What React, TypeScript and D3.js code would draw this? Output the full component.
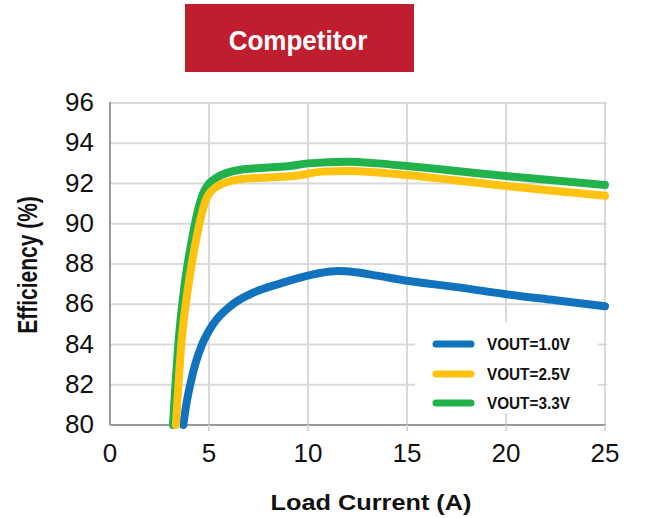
import { useEffect, useRef } from 'react';
import * as d3 from 'd3';

const WIDTH = 646;
const HEIGHT = 518;
const MARGIN = { top: 103, right: 41, bottom: 93, left: 110 };

const xTicks = [0, 5, 10, 15, 20, 25];
const yTicks = [80, 82, 84, 86, 88, 90, 92, 94, 96];

const seriesNames = ['VOUT=1.0V', 'VOUT=2.5V', 'VOUT=3.3V'];
const seriesColors = ['#1172bd', '#fec20f', '#22b24c'];

const current10 = [3.7, 3.85, 4.05, 4.3, 4.65, 5.2, 6.2, 7.3, 8.5, 9.6, 10.6, 11.5, 12.5, 13.5, 15, 17.5, 20, 22.5, 25];
const eff10 = [80, 81, 82, 83, 84, 85, 86, 86.6, 87.0, 87.32, 87.55, 87.65, 87.58, 87.42, 87.17, 86.85, 86.5, 86.2, 85.9];

const current25 = [3.33, 3.6, 4.0, 4.35, 4.6, 4.85, 5.4, 6.5, 8, 9.5, 10.7, 12, 13.5, 15, 17.5, 20, 22.5, 25];
const eff25 = [80, 84, 87.2, 89.2, 90.35, 91.2, 91.85, 92.2, 92.3, 92.4, 92.59, 92.62, 92.55, 92.42, 92.15, 91.88, 91.63, 91.39];

const current33 = [3.18, 3.45, 3.8, 4.1, 4.4, 4.7, 5.0, 5.4, 6.5, 8, 9.1, 10, 12, 13.5, 15, 17.5, 20, 22.5, 25];
const eff33 = [80, 84, 87.2, 89, 90.5, 91.5, 92.0, 92.3, 92.67, 92.8, 92.87, 93.0, 93.08, 93.0, 92.87, 92.62, 92.37, 92.15, 91.93];

const seriesX = [current10, current25, current33];
const seriesY = [eff10, eff25, eff33];
const drawOrder = [0, 2, 1];

function App() {
  const svgRef = useRef(null);

  useEffect(() => {
    const svg = d3.select(svgRef.current);
    svg.selectAll('*').remove();

    const x = d3.scaleLinear()
      .domain([0, 25])
      .range([MARGIN.left, WIDTH - MARGIN.right]);

    const y = d3.scaleLinear()
      .domain([80, 96])
      .range([HEIGHT - MARGIN.bottom, MARGIN.top]);

    const font = 'Liberation Sans, Arial, sans-serif';

    // title box
    svg.append('rect')
      .attr('x', 185).attr('y', 4)
      .attr('width', 229).attr('height', 68)
      .attr('fill', '#be1e2d');
    svg.append('text')
      .attr('transform', 'translate(298,50) scale(0.93,1)')
      .attr('text-anchor', 'middle')
      .attr('font-family', font)
      .attr('font-weight', 'bold')
      .attr('font-size', 28)
      .attr('fill', '#fff')
      .text('Competitor');

    // grid
    const grid = svg.append('g').attr('stroke', '#d9d9d9').attr('stroke-width', 2);
    grid.selectAll('line.v')
      .data(xTicks.slice(1))
      .join('line')
      .attr('x1', (d) => x(d)).attr('x2', (d) => x(d))
      .attr('y1', y(96)).attr('y2', y(80));
    grid.selectAll('line.h')
      .data(yTicks.slice(1))
      .join('line')
      .attr('class', 'h')
      .attr('x1', x(0)).attr('x2', x(25) + 2)
      .attr('y1', (d) => y(d)).attr('y2', (d) => y(d));

    // axes
    svg.append('line')
      .attr('x1', x(0)).attr('x2', x(0))
      .attr('y1', y(96) - 1).attr('y2', y(80))
      .attr('stroke', '#999').attr('stroke-width', 2);
    svg.append('line')
      .attr('x1', x(0)).attr('x2', x(25) + 1)
      .attr('y1', y(80)).attr('y2', y(80))
      .attr('stroke', '#999').attr('stroke-width', 2);
    svg.append('g')
      .selectAll('line')
      .data(xTicks.slice(1))
      .join('line')
      .attr('x1', (d) => x(d)).attr('x2', (d) => x(d))
      .attr('y1', y(80)).attr('y2', y(80) + 6)
      .attr('stroke', '#d9d9d9').attr('stroke-width', 2);

    svg.append('g')
      .selectAll('text')
      .data(yTicks)
      .join('text')
      .attr('x', 94)
      .attr('y', (d) => y(d) + 8)
      .attr('text-anchor', 'end')
      .attr('font-family', font)
      .attr('font-size', 26)
      .attr('fill', '#111')
      .text((d) => d);

    svg.append('g')
      .selectAll('text')
      .data(xTicks)
      .join('text')
      .attr('x', (d) => x(d))
      .attr('y', 462)
      .attr('text-anchor', 'middle')
      .attr('font-family', font)
      .attr('font-size', 26)
      .attr('fill', '#111')
      .text((d) => d);

    svg.append('text')
      .attr('transform', 'translate(371,510) scale(1.15,1)')
      .attr('text-anchor', 'middle')
      .attr('font-family', font)
      .attr('font-weight', 'bold')
      .attr('font-size', 22)
      .attr('fill', '#111')
      .text('Load Current (A)');

    svg.append('text')
      .attr('transform', 'translate(37,265) rotate(-90) scale(1,1.3)')
      .attr('text-anchor', 'middle')
      .attr('font-family', font)
      .attr('font-weight', 'bold')
      .attr('font-size', 21)
      .attr('fill', '#111')
      .text('Efficiency (%)');

    // curves
    const line = d3.line<[number, number]>()
      .x((d) => x(d[0]))
      .y((d) => y(d[1]))
      .curve(d3.curveMonotoneX);

    drawOrder.forEach((i) => {
      const pts = seriesX[i].map((v, k) => [v, seriesY[i][k]] as [number, number]);
      svg.append('path')
        .attr('d', line(pts))
        .attr('fill', 'none')
        .attr('stroke', seriesColors[i])
        .attr('stroke-width', 8)
        .attr('stroke-linecap', 'round')
        .attr('stroke-linejoin', 'round');
    });

    // legend
    const legend = svg.append('g');
    legend.append('rect')
      .attr('x', 415).attr('y', 322)
      .attr('width', 183).attr('height', 91)
      .attr('fill', '#fff');
    const rows = legend.selectAll('g')
      .data(seriesNames)
      .join('g')
      .attr('transform', (_d, i) => `translate(0,${[344, 374, 403][i]})`);
    rows.append('line')
      .attr('x1', 436).attr('x2', 471)
      .attr('y1', 0).attr('y2', 0)
      .attr('stroke', (_d, i) => seriesColors[i])
      .attr('stroke-width', 7)
      .attr('stroke-linecap', 'round');
    rows.append('text')
      .attr('transform', 'translate(487,6.3) scale(0.9,1)')
      .attr('font-family', font)
      .attr('font-weight', 'bold')
      .attr('font-size', 17)
      .attr('fill', '#111')
      .text((d) => d);
  }, []);

  return (
    <svg
      ref={svgRef}
      width={WIDTH}
      height={HEIGHT}
      style={{ position: 'absolute', left: 0, top: 0, background: '#fff' }}
    />
  );
}

export default App;
